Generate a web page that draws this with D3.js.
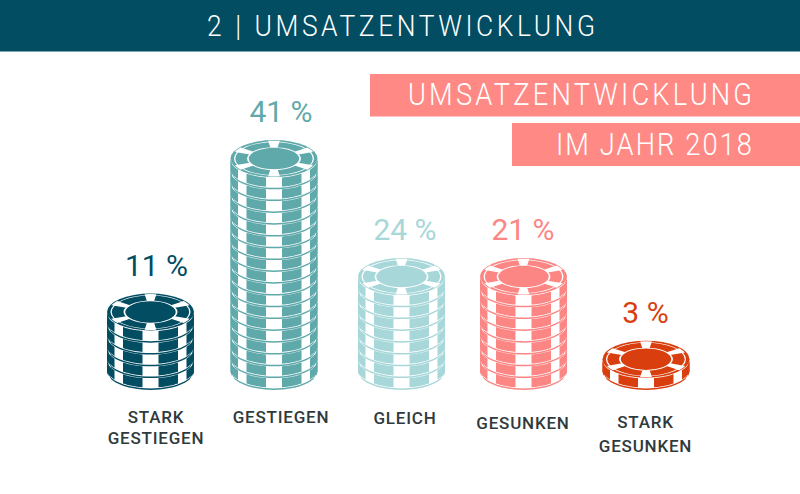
<!DOCTYPE html>
<html><head><meta charset="utf-8">
<script src="https://cdn.jsdelivr.net/npm/d3@7"></script>
<style>html,body{margin:0;background:#fff}svg{display:block}text{font-family:Roboto,sans-serif}</style>
</head><body><svg id="c" width="800" height="494"></svg>
<script>
const categories = [["STARK","GESTIEGEN"],["GESTIEGEN"],["GLEICH"],["GESUNKEN"],["STARK","GESUNKEN"]];
const percents = [11,41,24,21,3];
const chipCounts = [5,18,8,8,1];
const colors = ["#024d62","#5fa9ab","#a8d7d9","#fb8684","#d93e0e"];
const titleText = "2 | UMSATZENTWICKLUNG";
const bannerLines = ["UMSATZENTWICKLUNG","IM JAHR 2018"];

const W=800,H=494,sx=.88;
const svg=d3.select("#c");
const idx=d3.range(categories.length);
const x=d3.scaleOrdinal().domain(idx).range([150.5,274,401.5,523.5,646]);
const labelX=d3.scaleOrdinal().domain(idx).range([156,281,405,523,645.5]);
const labelY=d3.scaleOrdinal().domain(idx).range([423,423,424,429,428]);
const y=d3.scaleLinear().domain([0,1]).range([371,359.2]);
const rx=43.5, ry=18.5, h=11.8;

function spaced(px,py,w,size,txt){
  return svg.append("text").attr("transform",`translate(${px},${py}) scale(${sx},1)`)
    .attr("fill","#fff").attr("font-size",size).attr("font-weight",300)
    .attr("textLength",w/sx).attr("lengthAdjust","spacing").text(txt);
}
svg.append("rect").attr("width",W).attr("height",51.5).attr("fill","#024d62");
spaced(207,36,388,30,titleText);

const banners=[{x:370,y:74,h:42.5,b:105,w:344},{x:512,y:123,h:43,b:155,w:196}];
banners.forEach((b,i)=>{
  svg.append("rect").attr("x",b.x).attr("y",b.y).attr("width",W-b.x).attr("height",b.h).attr("fill","#ff8a85");
  spaced(752-b.w,b.b,b.w,31,bannerLines[i]);
});

const lowY=v=>ry*Math.sqrt(Math.max(0,1-(v/rx)*(v/rx)));
function band(x1,x2,t,b){
  const xs=d3.range(0,21).map(i=>x1+(x2-x1)*i/20);
  const top=xs.map(v=>[v,lowY(v)+t]);
  const bot=xs.slice().reverse().map(v=>[v,lowY(v)+b]);
  return d3.line()(top.concat(bot))+"Z";
}
const arc=d3.arc();
const deg=Math.PI/180;
function drawTop(g,c){
  const f=g.append("g").attr("transform",`scale(1,${ry/rx})`);
  const a=(i,o,s=0,e=360)=>arc({innerRadius:i,outerRadius:o,startAngle:s*deg,endAngle:e*deg});
  f.append("path").attr("d",a(0,rx)).attr("fill",c);
  f.append("path").attr("d",a(rx*.89,rx*.92)).attr("fill","#fff");
  f.append("path").attr("d",a(rx*.58,rx*.62)).attr("fill","#fff");
  [0,60,120,180,240,300].forEach(d=>{
    f.append("path").attr("d",a(rx*.6,rx*.97,d-8,d+8)).attr("fill","#fff");
  });
}
function drawChip(g,c,isTop){
  g.append("path").attr("d",band(-rx,rx,0,h)).attr("fill","#fff");
  [[-rx,-36],[-27.5,-8],[8,27.5],[36,rx]].forEach(([a,b])=>{
    g.append("path").attr("d",band(a,b,.7,h-1.9)).attr("fill",c);
  });
  g.append("path").attr("d",band(-rx,rx,h-1.1,h+.4)).attr("fill",c);
  g.append("path").attr("d",band(-rx,-rx+1.6,0,h)).attr("fill",c);
  g.append("path").attr("d",band(rx-1.6,rx,0,h)).attr("fill",c);
  if(isTop) drawTop(g,c);
}
idx.forEach(k=>{
  const n=chipCounts[k], gs=svg.append("g");
  d3.range(n).forEach(i=>{
    const g=gs.append("g").attr("transform",`translate(${x(k)},${y(i+1)})`);
    drawChip(g,colors[k],i===n-1);
  });
  const topY=y(n)-ry;
  svg.append("text").attr("x",labelX(k)+(k===0?.5:0)).attr("y",topY-18).attr("text-anchor","middle")
    .attr("fill",colors[k]).attr("font-size",30).attr("font-weight",400)
    .text(percents[k]+" %");
  categories[k].forEach((t,j)=>{
    svg.append("text").attr("x",labelX(k)).attr("y",labelY(k)+j*(k==0?21:24))
      .attr("text-anchor","middle").attr("fill","#2f3a3c").attr("font-size",17)
      .attr("font-weight",500).style("letter-spacing",".8px").text(t);
  });
});
</script></body></html>
